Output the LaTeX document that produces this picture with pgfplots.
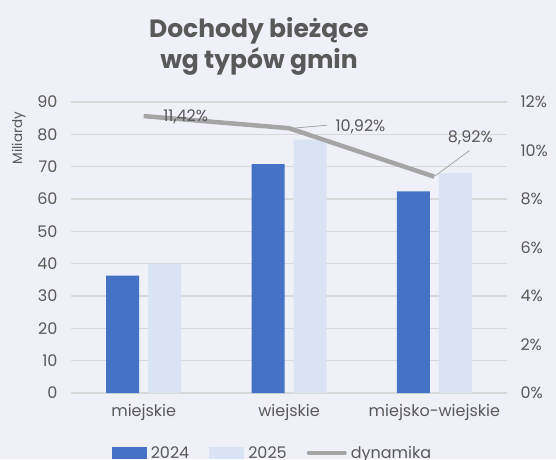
\documentclass[border=0pt]{standalone}
\usepackage{pgfplots}
\pgfplotsset{compat=1.18}
\usepackage{fontspec}
\setmainfont{Poppins}
\definecolor{bg}{HTML}{F0F1F8}
\definecolor{c24}{HTML}{4472C4}
\definecolor{c25}{HTML}{DAE3F3}
\definecolor{lin}{HTML}{A5A5A5}
\definecolor{gridc}{HTML}{D9D9D9}
\definecolor{txt}{HTML}{595959}
\begin{document}
\begin{tikzpicture}
\path[use as bounding box, fill=bg] (0pt,0pt) rectangle (556pt,-459pt);
\clip (0pt,0pt) rectangle (556pt,-459pt);
\node[font=\fontsize{25}{31}\selectfont\bfseries, text=txt, anchor=base] at (259pt,-37pt) {Dochody bieżące};
\node[font=\fontsize{25}{31}\selectfont\bfseries, text=txt, anchor=base] at (259pt,-68pt) {wg typów gmin};
\begin{axis}[
  at={(71pt,-393pt)}, anchor=south west,
  scale only axis, width=436pt, height=291pt,
  xmin=-0.5, xmax=2.5, ymin=0, ymax=90,
  ytick={0,10,...,90},
  xtick={0,1,2},
  xticklabels={miejskie,wiejskie,miejsko-wiejskie},
  axis line style={draw=none},
  major tick length=0pt,
  ymajorgrids, grid style={gridc, line width=1.2pt},
  axis y line*=left, axis x line*=bottom,
  /pgf/number format/assume math mode=true,
  tick label style={font=\fontsize{16}{19}\selectfont, text=txt},
  yticklabel style={xshift=-10pt},
  xticklabel style={yshift=-8pt},
  ylabel={Miliardy},
  ylabel style={at={(axis description cs:-0.12,0.876)}, anchor=center, font=\fontsize{13.5}{16}\selectfont, text=txt},
  ybar, bar width=33pt,
  legend columns=3,
  legend style={at={(axis description cs:0.462,-0.206)}, anchor=center, draw=none, fill=none,
    font=\fontsize{16}{19}\selectfont, text=txt,
    /tikz/every even column/.append style={column sep=18pt},
    /tikz/every odd column/.append style={column sep=2pt}},
]
\addplot[fill=c24, draw=none, bar shift=-21pt,
  legend image code/.code={\fill[c24] (0pt,-6pt) rectangle (35pt,6pt);}]
  coordinates {(0,36.3) (1,70.8) (2,62.4)};
\addplot[fill=c25, draw=none, bar shift=21pt,
  legend image code/.code={\fill[c25] (0pt,-6pt) rectangle (35pt,6pt);}]
  coordinates {(0,40.0) (1,78.4) (2,68.0)};
\addlegendimage{lin, line width=4pt, legend image code/.code={\draw[lin, line width=4pt, line cap=round] (2pt,0pt) -- (38pt,0pt);}}
\legend{2024,2025,dynamika}
\end{axis}
\begin{axis}[
  at={(71pt,-393pt)}, anchor=south west,
  scale only axis, width=436pt, height=291pt,
  xmin=-0.5, xmax=2.5, ymin=0, ymax=12,
  ytick={0,2,...,12},
  yticklabel={\pgfmathprintnumber{\tick}\%},
  axis y line*=right,
  axis line style={draw=none},
  major tick length=0pt,
  hide x axis,
  /pgf/number format/assume math mode=true,
  tick label style={font=\fontsize{16}{19}\selectfont, text=txt},
  yticklabel style={xshift=10pt},
]
\addplot[lin, line width=4.5pt, line join=round,
  nodes near coords={\pgfmathprintnumber[fixed,precision=2,fixed zerofill,use comma]{\pgfplotspointmeta}\%},
  point meta=y,
  visualization depends on={\thisrow{dx} \as \dx},
  visualization depends on={\thisrow{dy} \as \dy},
  every node near coord/.append style={anchor=center, xshift=\dx pt, yshift=\dy pt, font=\fontsize{16}{19}\selectfont, text=txt},
] table {
x y dx dy
0 11.42 42 -1
1 10.92 71.5 1
2 8.92 36 39
};
\draw[lin, line width=0.8pt] (axis cs:1,10.92) ++(4pt,0pt) -- ++(34pt,3pt);
\draw[lin, line width=0.8pt] (axis cs:2,8.92) ++(1pt,1pt) -- ++(34pt,25pt);
\end{axis}
\end{tikzpicture}
\end{document}
